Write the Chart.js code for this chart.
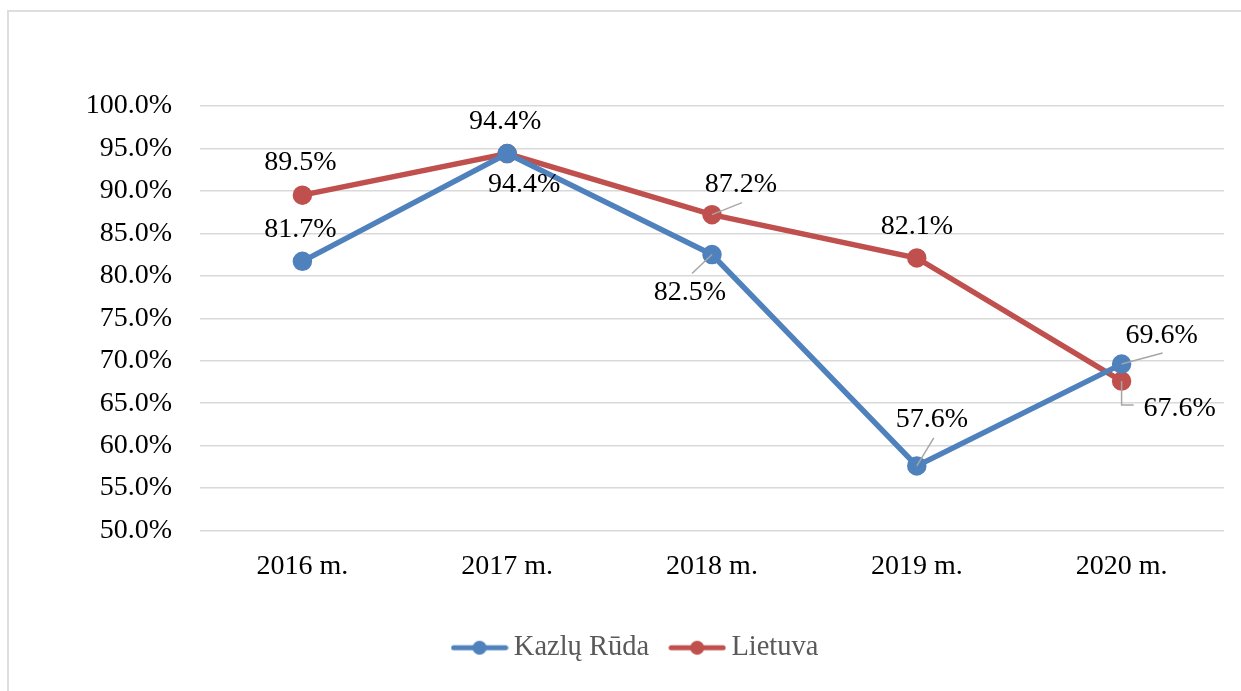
<!DOCTYPE html>
<html>
<head>
<meta charset="utf-8">
<script src="https://cdn.jsdelivr.net/npm/chart.js@4.4.1/dist/chart.umd.min.js"></script>
<style>
    html, body { margin: 0; padding: 0; background: #fff; overflow: hidden; }
    #frame { position: absolute; left: 7px; top: 10px; width: 1400px; height: 900px; border: 2px solid #dedede; }
    #wrap { position: absolute; left: 0; top: 0; width: 1241px; height: 691px; }
</style>
</head>
<body>
<div id="frame"></div>
<div id="wrap"><canvas id="lineChart"></canvas></div>
<script>
const years = ['2016 m.', '2017 m.', '2018 m.', '2019 m.', '2020 m.'];
const kazluRuda = [81.7, 94.4, 82.5, 57.6, 69.6];
const lietuva = [89.5, 94.4, 87.2, 82.1, 67.6];
const yTicks = [50, 55, 60, 65, 70, 75, 80, 85, 90, 95, 100];

const FONT = "'Liberation Serif', 'Times New Roman', serif";
const BLUE = '#4f81bd';
const RED = '#c0504d';

// where each value label sits, relative to its point; leader = end of the grey pointer line
const labelPlacement = [
    [
        { dx: -2, dy: -33 },
        { dx: 17, dy: 30 },
        { dx: -22, dy: 37, leader: [[-20, 19]] },
        { dx: 15, dy: -47, leader: [[17, -28]] },
        { dx: 40, dy: -29, leader: [[41, -11]] }
    ],
    [
        { dx: -2, dy: -34 },
        { dx: -2, dy: -33 },
        { dx: 29, dy: -31, leader: [[30, -12]] },
        { dx: 0, dy: -32 },
        { dx: 58, dy: 27, leader: [[0, 24], [12, 24]] }
    ]
];

function legendMark(color) {
    const c = document.createElement('canvas');
    c.width = 58;
    c.height = 18;
    const g = c.getContext('2d');
    g.strokeStyle = color;
    g.lineWidth = 5;
    g.lineCap = 'round';
    g.beginPath();
    g.moveTo(3, 9);
    g.lineTo(55, 9);
    g.stroke();
    g.fillStyle = color;
    g.beginPath();
    g.arc(29, 9, 7, 0, Math.PI * 2);
    g.fill();
    return c;
}

const valueLabels = {
    id: 'valueLabels',
    afterDatasetsDraw(chart) {
        const ctx = chart.ctx;
        ctx.save();
        chart.data.datasets.forEach((ds, i) => {
            const meta = chart.getDatasetMeta(i);
            meta.data.forEach((pt, j) => {
                const p = labelPlacement[i][j];
                if (p.leader) {
                    ctx.strokeStyle = '#a6a6a6';
                    ctx.lineWidth = 1.5;
                    ctx.beginPath();
                    ctx.moveTo(pt.x, pt.y);
                    p.leader.forEach(l => ctx.lineTo(pt.x + l[0], pt.y + l[1]));
                    ctx.stroke();
                }
                ctx.fillStyle = '#000';
                ctx.font = '28px ' + FONT;
                ctx.textAlign = 'center';
                ctx.textBaseline = 'middle';
                ctx.fillText(ds.data[j].toFixed(1) + '%', pt.x + p.dx, pt.y + p.dy + 1);
            });
        });
        ctx.restore();
    }
};

const ctx = document.getElementById('lineChart');

const chart = new Chart(ctx, {
    type: 'line',
    data: {
        labels: years,
        datasets: [{
            label: 'Kazlų Rūda',
            data: kazluRuda,
            borderColor: BLUE,
            backgroundColor: BLUE,
            borderWidth: 5.5,
            pointRadius: 7,
            pointHoverRadius: 7,
            pointStyle: 'circle',
            legendMark: legendMark(BLUE)
        }, {
            label: 'Lietuva',
            data: lietuva,
            borderColor: RED,
            backgroundColor: RED,
            borderWidth: 5.5,
            pointRadius: 7,
            pointHoverRadius: 7,
            pointStyle: 'circle',
            legendMark: legendMark(RED)
        }]
    },
    options: {
        responsive: true,
        maintainAspectRatio: false,
        animation: false,
        layout: { padding: { left: 54, right: 17, top: 106, bottom: 19 } },
        scales: {
            x: {
                offset: true,
                grid: { display: false },
                border: { display: false },
                ticks: { color: '#000', font: { family: FONT, size: 28 }, padding: 11 },
                afterFit(scale) { scale.height = 75; }
            },
            y: {
                min: 50,
                max: 100,
                afterBuildTicks(scale) { scale.ticks = yTicks.map(v => ({ value: v })); },
                grid: { color: '#d9d9d9', lineWidth: 1.5, drawTicks: false },
                border: { display: false },
                ticks: {
                    color: '#000',
                    font: { family: FONT, size: 28 },
                    padding: 28,
                    callback: v => v.toFixed(1) + '%'
                },
                afterFit(scale) { scale.width = 146; }
            }
        },
        plugins: {
            tooltip: { enabled: false },
            legend: {
                position: 'bottom',
                labels: {
                    color: '#595959',
                    font: { family: FONT, size: 28.5 },
                    usePointStyle: true,
                    pointStyleWidth: 40,
                    padding: 28,
                    generateLabels(chart) {
                        return chart.data.datasets.map((ds, i) => ({
                            text: ds.label,
                            pointStyle: ds.legendMark,
                            fontColor: '#595959',
                            strokeStyle: ds.borderColor,
                            fillStyle: ds.backgroundColor,
                            lineWidth: 0,
                            hidden: false,
                            datasetIndex: i
                        }));
                    }
                }
            }
        }
    },
    plugins: [valueLabels]
});
</script>
</body>
</html>
